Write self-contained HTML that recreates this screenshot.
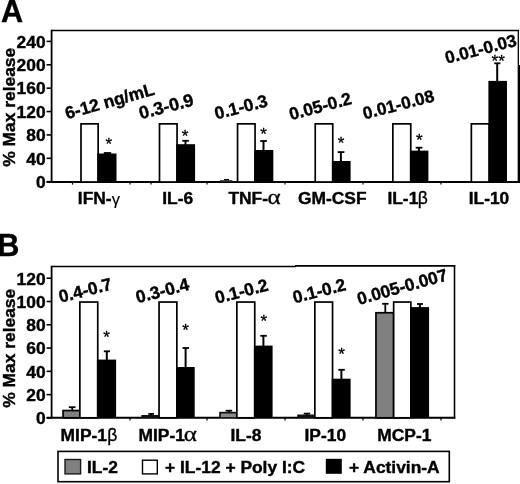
<!DOCTYPE html>
<html><head><meta charset="utf-8"><title>Figure</title>
<style>
html,body{margin:0;padding:0;background:#fff;}
body{width:520px;height:484px;overflow:hidden;}
svg{display:block;}
svg text{font-family:"Liberation Sans",Arial,Helvetica,sans-serif;font-weight:bold;fill:#000;stroke:#000;stroke-width:0.4px;}
</style></head><body>
<svg width="520" height="484" viewBox="0 0 520 484">
<rect x="0" y="0" width="520" height="484" fill="#fff"/>
<line x1="51.60" y1="30.50" x2="519.20" y2="30.50" stroke="#000" stroke-width="1.7"/>
<line x1="51.60" y1="29.70" x2="51.60" y2="183.00" stroke="#000" stroke-width="1.8"/>
<line x1="518.30" y1="30.00" x2="518.30" y2="182.00" stroke="#000" stroke-width="1.3"/>
<line x1="519.40" y1="65.00" x2="519.40" y2="183.00" stroke="#000" stroke-width="1.6"/>
<line x1="46.60" y1="182.00" x2="520.00" y2="182.00" stroke="#000" stroke-width="2.0"/>
<line x1="46.60" y1="181.70" x2="52.00" y2="181.70" stroke="#000" stroke-width="1.6"/>
<text x="45.6" y="188.0" font-size="17.4" text-anchor="end">0</text>
<line x1="46.60" y1="158.32" x2="52.00" y2="158.32" stroke="#000" stroke-width="1.6"/>
<text x="45.6" y="164.62" font-size="17.4" text-anchor="end">40</text>
<line x1="46.60" y1="134.93" x2="52.00" y2="134.93" stroke="#000" stroke-width="1.6"/>
<text x="45.6" y="141.23" font-size="17.4" text-anchor="end">80</text>
<line x1="46.60" y1="111.55" x2="52.00" y2="111.55" stroke="#000" stroke-width="1.6"/>
<text x="45.6" y="117.85" font-size="17.4" text-anchor="end">120</text>
<line x1="46.60" y1="88.17" x2="52.00" y2="88.17" stroke="#000" stroke-width="1.6"/>
<text x="45.6" y="94.47" font-size="17.4" text-anchor="end">160</text>
<line x1="46.60" y1="64.78" x2="52.00" y2="64.78" stroke="#000" stroke-width="1.6"/>
<text x="45.6" y="71.08" font-size="17.4" text-anchor="end">200</text>
<line x1="46.60" y1="41.40" x2="52.00" y2="41.40" stroke="#000" stroke-width="1.6"/>
<text x="45.6" y="47.7" font-size="17.4" text-anchor="end">240</text>
<line x1="72.50" y1="182.00" x2="72.50" y2="184.60" stroke="#000" stroke-width="1.2"/>
<line x1="130.00" y1="182.00" x2="130.00" y2="184.60" stroke="#000" stroke-width="1.2"/>
<line x1="151.00" y1="182.00" x2="151.00" y2="184.60" stroke="#000" stroke-width="1.2"/>
<line x1="207.00" y1="182.00" x2="207.00" y2="184.60" stroke="#000" stroke-width="1.2"/>
<line x1="285.00" y1="182.00" x2="285.00" y2="184.60" stroke="#000" stroke-width="1.2"/>
<line x1="363.00" y1="182.00" x2="363.00" y2="184.60" stroke="#000" stroke-width="1.2"/>
<line x1="441.00" y1="182.00" x2="441.00" y2="184.60" stroke="#000" stroke-width="1.2"/>
<text x="14.6" y="107.3" font-size="17.4" text-anchor="middle" transform="rotate(-90 14.6 107.3)">% Max release</text>
<text x="0.9" y="22" font-size="30.6">A</text>
<line x1="107.50" y1="153.00" x2="107.50" y2="154.50" stroke="#000" stroke-width="2.0"/>
<line x1="103.80" y1="153.00" x2="111.20" y2="153.00" stroke="#000" stroke-width="1.8"/>
<rect x="81.00" y="123.85" width="17.15" height="58.15" fill="#fff" stroke="#000" stroke-width="1.7"/>
<rect x="97.30" y="153.50" width="19.20" height="28.50" fill="#000"/>
<text x="108.7" y="149.8" font-size="17" text-anchor="middle" style="font-weight:normal;stroke-width:0.3px">*</text>
<line x1="185.50" y1="140.80" x2="185.50" y2="145.20" stroke="#000" stroke-width="2.0"/>
<line x1="182.30" y1="140.80" x2="188.90" y2="140.80" stroke="#000" stroke-width="1.8"/>
<rect x="159.50" y="123.85" width="17.55" height="58.15" fill="#fff" stroke="#000" stroke-width="1.7"/>
<rect x="176.20" y="144.20" width="18.90" height="37.80" fill="#000"/>
<text x="185.1" y="141.9" font-size="17" text-anchor="middle" style="font-weight:normal;stroke-width:0.3px">*</text>
<rect x="220.00" y="180.20" width="12.50" height="1.80" fill="#222"/>
<line x1="224.00" y1="179.60" x2="229.00" y2="179.60" stroke="#000" stroke-width="1.2"/>
<line x1="263.50" y1="141.00" x2="263.50" y2="151.00" stroke="#000" stroke-width="2.0"/>
<line x1="260.20" y1="141.00" x2="266.90" y2="141.00" stroke="#000" stroke-width="1.8"/>
<rect x="237.55" y="123.85" width="17.50" height="58.15" fill="#fff" stroke="#000" stroke-width="1.7"/>
<rect x="254.20" y="150.00" width="19.10" height="32.00" fill="#000"/>
<text x="263.6" y="140.4" font-size="17" text-anchor="middle" style="font-weight:normal;stroke-width:0.3px">*</text>
<line x1="340.90" y1="152.10" x2="340.90" y2="162.00" stroke="#000" stroke-width="2.0"/>
<line x1="337.70" y1="152.10" x2="344.40" y2="152.10" stroke="#000" stroke-width="1.8"/>
<rect x="315.25" y="123.85" width="17.50" height="58.15" fill="#fff" stroke="#000" stroke-width="1.7"/>
<rect x="331.90" y="161.00" width="18.70" height="21.00" fill="#000"/>
<text x="341" y="148.6" font-size="17" text-anchor="middle" style="font-weight:normal;stroke-width:0.3px">*</text>
<line x1="418.90" y1="147.70" x2="418.90" y2="151.60" stroke="#000" stroke-width="2.0"/>
<line x1="415.70" y1="147.70" x2="422.40" y2="147.70" stroke="#000" stroke-width="1.8"/>
<rect x="392.85" y="123.85" width="17.90" height="58.15" fill="#fff" stroke="#000" stroke-width="1.7"/>
<rect x="409.90" y="150.60" width="18.50" height="31.40" fill="#000"/>
<text x="419.2" y="145.9" font-size="17" text-anchor="middle" style="font-weight:normal;stroke-width:0.3px">*</text>
<line x1="497.20" y1="63.30" x2="497.20" y2="81.90" stroke="#000" stroke-width="2.0"/>
<line x1="494.30" y1="63.30" x2="500.40" y2="63.30" stroke="#000" stroke-width="1.8"/>
<rect x="471.35" y="123.85" width="17.90" height="58.15" fill="#fff" stroke="#000" stroke-width="1.7"/>
<rect x="488.40" y="80.90" width="18.60" height="101.10" fill="#000"/>
<text x="498.2" y="67.4" font-size="17" text-anchor="middle" style="font-weight:normal;stroke-width:0.3px">**</text>
<text x="77.8" y="203.8" font-size="17.4">IFN-</text>
<text x="111.70" y="204.80" style="font-weight:normal;stroke-width:0.15px" font-size="16.5">γ</text>
<text x="177.7" y="203.8" font-size="17.4" text-anchor="middle">IL-6</text>
<text x="228.4" y="203.8" font-size="17.4">TNF-</text>
<text transform="translate(267.60 203.8) scale(1.25 1)" x="0" y="0" style="font-family:'Liberation Serif','DejaVu Serif',serif;font-weight:normal;stroke-width:0.3px" font-size="20">α</text>
<text x="332.3" y="203.8" font-size="17.4" text-anchor="middle">GM-CSF</text>
<text x="387.4" y="203.8" font-size="17.4">IL-1</text>
<text x="417.75" y="204.10" style="font-weight:normal;stroke-width:0.35px" font-size="17.5">β</text>
<text x="489" y="203.8" font-size="17.4" text-anchor="middle">IL-10</text>
<text x="67" y="119.3" font-size="17.4" transform="rotate(-15.7 67 119.3)">6-12 ng/mL</text>
<text x="140.8" y="119.3" font-size="17.9" transform="rotate(-14.5 140.8 119.3)">0.3-0.9</text>
<text x="216.3" y="119.6" font-size="17.4" transform="rotate(-14.5 216.3 119.6)">0.1-0.3</text>
<text x="291" y="120.3" font-size="17.4" transform="rotate(-15 291 120.3)">0.05-0.2</text>
<text x="364.5" y="119.4" font-size="17.3" transform="rotate(-14.5 364.5 119.4)">0.01-0.08</text>
<text x="446.8" y="63.8" font-size="17.3" transform="rotate(-14.5 446.8 63.8)">0.01-0.03</text>
<line x1="51.60" y1="266.50" x2="296.00" y2="266.50" stroke="#000" stroke-width="1.6"/>
<line x1="295.00" y1="265.90" x2="455.30" y2="265.90" stroke="#000" stroke-width="1.6"/>
<line x1="51.60" y1="265.70" x2="51.60" y2="418.80" stroke="#000" stroke-width="1.8"/>
<line x1="454.50" y1="265.20" x2="454.50" y2="418.80" stroke="#000" stroke-width="1.6"/>
<line x1="46.60" y1="417.80" x2="455.30" y2="417.80" stroke="#000" stroke-width="2.0"/>
<line x1="46.60" y1="417.90" x2="52.00" y2="417.90" stroke="#000" stroke-width="1.6"/>
<text x="45.6" y="424.2" font-size="17.4" text-anchor="end">0</text>
<line x1="46.60" y1="394.62" x2="52.00" y2="394.62" stroke="#000" stroke-width="1.6"/>
<text x="45.6" y="400.92" font-size="17.4" text-anchor="end">20</text>
<line x1="46.60" y1="371.34" x2="52.00" y2="371.34" stroke="#000" stroke-width="1.6"/>
<text x="45.6" y="377.64" font-size="17.4" text-anchor="end">40</text>
<line x1="46.60" y1="348.06" x2="52.00" y2="348.06" stroke="#000" stroke-width="1.6"/>
<text x="45.6" y="354.36" font-size="17.4" text-anchor="end">60</text>
<line x1="46.60" y1="324.78" x2="52.00" y2="324.78" stroke="#000" stroke-width="1.6"/>
<text x="45.6" y="331.08" font-size="17.4" text-anchor="end">80</text>
<line x1="46.60" y1="301.50" x2="52.00" y2="301.50" stroke="#000" stroke-width="1.6"/>
<text x="45.6" y="307.8" font-size="17.4" text-anchor="end">100</text>
<line x1="46.60" y1="278.22" x2="52.00" y2="278.22" stroke="#000" stroke-width="1.6"/>
<text x="45.6" y="284.52" font-size="17.4" text-anchor="end">120</text>
<line x1="130.00" y1="417.80" x2="130.00" y2="420.40" stroke="#000" stroke-width="1.2"/>
<line x1="207.00" y1="417.80" x2="207.00" y2="420.40" stroke="#000" stroke-width="1.2"/>
<line x1="285.00" y1="417.80" x2="285.00" y2="420.40" stroke="#000" stroke-width="1.2"/>
<line x1="363.00" y1="417.80" x2="363.00" y2="420.40" stroke="#000" stroke-width="1.2"/>
<line x1="441.00" y1="417.80" x2="441.00" y2="420.40" stroke="#000" stroke-width="1.2"/>
<text x="14.6" y="348.3" font-size="17.4" text-anchor="middle" transform="rotate(-90 14.6 348.3)">% Max release</text>
<text x="-2.7" y="255.8" font-size="30.7">B</text>
<line x1="72.20" y1="407.20" x2="72.20" y2="410.70" stroke="#000" stroke-width="1.8"/>
<line x1="68.80" y1="407.20" x2="75.50" y2="407.20" stroke="#000" stroke-width="1.8"/>
<line x1="106.80" y1="351.30" x2="106.80" y2="360.60" stroke="#000" stroke-width="2.0"/>
<line x1="103.80" y1="351.30" x2="110.00" y2="351.30" stroke="#000" stroke-width="1.8"/>
<rect x="63.05" y="410.55" width="16.80" height="7.25" fill="#808080" stroke="#000" stroke-width="1.7"/>
<rect x="79.85" y="302.05" width="17.90" height="115.75" fill="#fff" stroke="#000" stroke-width="1.7"/>
<rect x="96.90" y="359.60" width="19.20" height="58.20" fill="#000"/>
<text x="106.6" y="343.0" font-size="17" text-anchor="middle" style="font-weight:normal;stroke-width:0.3px">*</text>
<line x1="151.10" y1="413.90" x2="151.10" y2="416.00" stroke="#000" stroke-width="1.8"/>
<line x1="148.30" y1="413.90" x2="154.00" y2="413.90" stroke="#000" stroke-width="1.8"/>
<line x1="185.60" y1="348.00" x2="185.60" y2="368.00" stroke="#000" stroke-width="2.0"/>
<line x1="182.50" y1="348.00" x2="189.00" y2="348.00" stroke="#000" stroke-width="1.8"/>
<rect x="141.30" y="415.00" width="17.90" height="2.80" fill="#111"/>
<rect x="159.05" y="302.05" width="17.80" height="115.75" fill="#fff" stroke="#000" stroke-width="1.7"/>
<rect x="176.00" y="367.00" width="18.70" height="50.80" fill="#000"/>
<text x="185.6" y="336.4" font-size="17" text-anchor="middle" style="font-weight:normal;stroke-width:0.3px">*</text>
<line x1="228.90" y1="410.70" x2="228.90" y2="412.80" stroke="#000" stroke-width="1.8"/>
<line x1="225.60" y1="410.70" x2="232.20" y2="410.70" stroke="#000" stroke-width="1.8"/>
<line x1="263.40" y1="335.80" x2="263.40" y2="346.60" stroke="#000" stroke-width="2.0"/>
<line x1="260.30" y1="335.80" x2="266.80" y2="335.80" stroke="#000" stroke-width="1.8"/>
<rect x="219.20" y="411.80" width="17.80" height="6.00" fill="#111"/>
<rect x="220.90" y="413.50" width="15.10" height="3.60" fill="#8a8a8a"/>
<rect x="236.85" y="302.05" width="17.90" height="115.75" fill="#fff" stroke="#000" stroke-width="1.7"/>
<rect x="253.90" y="345.60" width="18.70" height="72.20" fill="#000"/>
<text x="263.7" y="326.9" font-size="17" text-anchor="middle" style="font-weight:normal;stroke-width:0.3px">*</text>
<line x1="307.00" y1="413.60" x2="307.00" y2="415.50" stroke="#000" stroke-width="1.8"/>
<line x1="303.80" y1="413.60" x2="310.20" y2="413.60" stroke="#000" stroke-width="1.8"/>
<line x1="341.40" y1="369.80" x2="341.40" y2="379.70" stroke="#000" stroke-width="2.0"/>
<line x1="338.30" y1="369.80" x2="344.80" y2="369.80" stroke="#000" stroke-width="1.8"/>
<rect x="297.20" y="414.50" width="17.80" height="3.30" fill="#111"/>
<rect x="314.85" y="302.05" width="17.70" height="115.75" fill="#fff" stroke="#000" stroke-width="1.7"/>
<rect x="331.70" y="378.70" width="18.90" height="39.10" fill="#000"/>
<text x="341.6" y="360.3" font-size="17" text-anchor="middle" style="font-weight:normal;stroke-width:0.3px">*</text>
<line x1="385.30" y1="303.80" x2="385.30" y2="312.90" stroke="#000" stroke-width="1.8"/>
<line x1="382.20" y1="303.80" x2="388.50" y2="303.80" stroke="#000" stroke-width="1.8"/>
<line x1="419.90" y1="304.00" x2="419.90" y2="308.10" stroke="#000" stroke-width="2.0"/>
<line x1="417.00" y1="304.00" x2="423.00" y2="304.00" stroke="#000" stroke-width="1.8"/>
<rect x="375.95" y="312.75" width="17.70" height="105.05" fill="#808080" stroke="#000" stroke-width="1.7"/>
<rect x="393.65" y="302.05" width="17.20" height="115.75" fill="#fff" stroke="#000" stroke-width="1.7"/>
<rect x="410.00" y="307.10" width="19.10" height="110.70" fill="#000"/>
<text x="60.6" y="440.6" font-size="17.4">MIP-1</text>
<text x="107.30" y="440.90" style="font-weight:normal;stroke-width:0.35px" font-size="17.5">β</text>
<text x="138.5" y="440.6" font-size="17.4">MIP-1</text>
<text transform="translate(183.75 440.6) scale(1.25 1)" x="0" y="0" style="font-family:'Liberation Serif','DejaVu Serif',serif;font-weight:normal;stroke-width:0.3px" font-size="20">α</text>
<text x="246" y="440.6" font-size="17.4" text-anchor="middle">IL-8</text>
<text x="325.3" y="440.6" font-size="17.4" text-anchor="middle">IP-10</text>
<text x="404.3" y="440.6" font-size="17.4" text-anchor="middle">MCP-1</text>
<text x="60.5" y="302.8" font-size="17.4" transform="rotate(-14.5 60.5 302.8)">0.4-0.7</text>
<text x="137.5" y="303.3" font-size="17.5" transform="rotate(-14.5 137.5 303.3)">0.3-0.4</text>
<text x="216.8" y="303.8" font-size="17.4" transform="rotate(-14.5 216.8 303.8)">0.1-0.2</text>
<text x="294.5" y="303.5" font-size="17.4" transform="rotate(-14.5 294.5 303.5)">0.1-0.2</text>
<text x="359" y="304.9" font-size="17.4" transform="rotate(-15.5 359 304.9)">0.005-0.007</text>
<rect x="58.00" y="451.40" width="391.30" height="30.30" fill="#fff" stroke="#000" stroke-width="1.6"/>
<rect x="65.00" y="459.50" width="15.60" height="14.40" fill="#808080" stroke="#1a1a1a" stroke-width="1.4"/>
<text x="87" y="472.8" font-size="17.4">IL-2</text>
<rect x="142.50" y="460.20" width="14.80" height="13.70" fill="#fff" stroke="#000" stroke-width="1.4"/>
<text x="165" y="472.8" font-size="17.4">+ IL-12 + Poly I:C</text>
<rect x="325.80" y="458.80" width="16.00" height="15.00" fill="#000"/>
<text x="349" y="472.8" font-size="17.4">+ Activin-A</text>
</svg>
</body></html>
